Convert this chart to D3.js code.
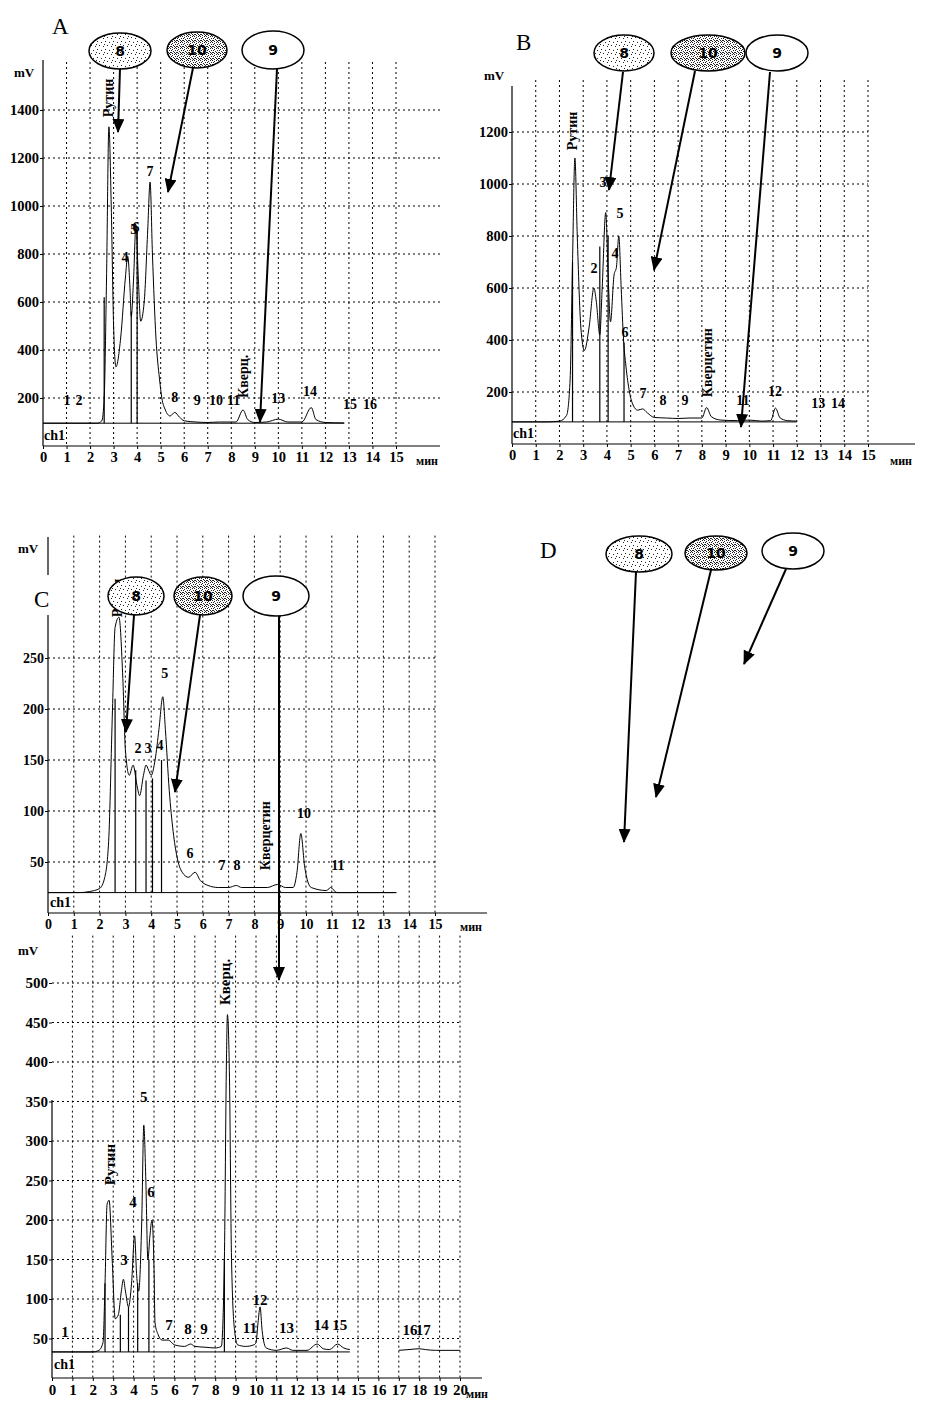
<!DOCTYPE html>
<html><head><meta charset="utf-8">
<script src="https://cdn.jsdelivr.net/npm/d3@7"></script>
<style>body{margin:0;background:#fff}</style>
</head><body>
<svg id="c" width="935" height="1413"></svg>
<script>
// ---------------- DATA ----------------
// Panel A
const xTicksA = [0,1,2,3,4,5,6,7,8,9,10,11,12,13,14,15];
const yTicksA = [200,400,600,800,1000,1200,1400];
const baseA = 95;
const traceA = [[0,95],[2.3,95],[2.5,105],[2.6,200],[2.7,700],[2.8,1330],[2.9,1000],[3.0,500],[3.1,330],[3.3,450],[3.5,700],[3.6,790],[3.7,650],[3.75,540],[3.85,700],[3.95,920],[4.05,700],[4.15,520],[4.3,600],[4.45,900],[4.55,1100],[4.65,800],[4.8,450],[4.95,280],[5.05,200],[5.2,150],[5.4,125],[5.6,140],[5.8,120],[6.0,105],[6.5,100],[7.0,98],[7.5,100],[8.2,100],[8.5,150],[8.7,110],[9.0,98],[9.5,100],[10.0,112],[10.4,100],[11.0,100],[11.4,160],[11.6,110],[12.0,98],[12.8,96]];
const dropA = [[2.6,620],[3.75,560],[4.0,900]];
const labelsA = [['1',1.02,170],['2',1.53,170],['4',3.48,767],['5',3.86,883],['6',3.95,890],['7',4.55,1125],['8',5.6,183],['9',6.55,170],['10',7.35,170],['11',8.1,170],['13',10.0,180],['14',11.35,208],['15',13.05,155],['16',13.9,155]];
const rotA = [['Рутин',2.76,1370],['Кверц.',8.5,200]];

// Panel B
const xTicksB = [0,1,2,3,4,5,6,7,8,9,10,11,12,13,14,15];
const yTicksB = [200,400,600,800,1000,1200];
const baseB = 85;
const traceB = [[0,85],[1.5,85],[2.0,88],[2.3,110],[2.45,250],[2.55,700],[2.65,1100],[2.75,800],[2.9,450],[3.05,360],[3.25,450],[3.45,600],[3.55,550],[3.7,420],[3.8,600],[3.95,890],[4.05,650],[4.15,470],[4.3,650],[4.4,680],[4.5,800],[4.6,600],[4.7,400],[4.8,300],[4.95,200],[5.1,150],[5.3,130],[5.5,135],[5.7,120],[6.0,102],[6.5,100],[7.0,98],[7.5,100],[8.0,100],[8.2,140],[8.4,105],[8.8,92],[9.5,90],[10.0,92],[10.5,88],[10.9,90],[11.1,138],[11.3,100],[11.6,90],[12.0,88]];
const dropB = [[2.55,700],[3.7,760],[4.05,800],[4.72,390]];
const labelsB = [['2',3.46,658],['3',3.83,988],['4',4.34,715],['5',4.55,870],['6',4.76,412],['7',5.52,177],['8',6.36,150],['9',7.29,150],['11',9.73,150],['12',11.08,185],['13',12.9,138],['14',13.74,138]];
const rotB = [['Рутин',2.53,1130],['Кверцетин',8.2,180]];

// Panel C
const xTicksC = [0,1,2,3,4,5,6,7,8,9,10,11,12,13,14,15];
const yTicksC = [50,100,150,200,250];
const baseC = 20;
const traceC = [[0,20],[1.2,20],[1.6,21],[2.0,24],[2.2,35],[2.35,70],[2.5,200],[2.6,280],[2.75,290],[2.9,230],[3.0,160],[3.15,135],[3.3,145],[3.45,125],[3.55,115],[3.7,135],[3.8,145],[3.9,140],[4.0,135],[4.15,150],[4.3,180],[4.45,212],[4.55,180],[4.7,120],[4.85,80],[5.0,55],[5.2,40],[5.45,35],[5.7,40],[5.9,32],[6.2,27],[6.6,25],[7.0,25],[7.3,27],[7.5,25],[8.0,25],[8.5,25],[8.9,28],[9.2,25],[9.5,25],[9.65,40],[9.8,78],[9.95,45],[10.2,25],[10.8,22],[10.95,25],[11.2,20],[12,20],[13.5,20]];
const dropC = [[2.6,210],[3.4,140],[3.8,130],[4.05,132],[4.4,150]];
const labelsC = [['2',3.49,157],['3',3.88,157],['4',4.34,160],['5',4.53,230],['6',5.5,54],['7',6.74,42],['8',7.33,42],['10',9.92,93],['11',11.24,42]];
const rotC = [['Рутин',2.67,290],['Кверцетин',8.41,42]];

// Panel D (bottom chromatogram)
const xTicksD = [0,1,2,3,4,5,6,7,8,9,10,11,12,13,14,15,16,17,18,19,20];
const yTicksD = [50,100,150,200,250,300,350,400,450,500];
const baseD = 33;
const traceD1 = [[0,33],[2.0,33],[2.3,35],[2.5,45],[2.6,120],[2.7,220],[2.8,225],[2.95,150],[3.1,75],[3.25,80],[3.4,110],[3.5,125],[3.6,110],[3.75,90],[3.9,120],[4.05,180],[4.15,130],[4.25,110],[4.4,200],[4.5,320],[4.6,250],[4.7,150],[4.8,180],[4.9,200],[5.0,140],[5.05,70],[5.2,55],[5.4,48],[5.7,48],[6.0,42],[6.5,40],[6.8,43],[7.0,40],[7.5,39],[8.0,38],[8.3,40],[8.45,150],[8.55,400],[8.6,460],[8.7,380],[8.8,150],[8.95,60],[9.1,42],[9.5,40],[9.9,42],[10.0,45],[10.1,70],[10.2,90],[10.3,60],[10.5,38],[11.0,35],[11.5,38],[11.8,35],[12.5,35],[13.0,43],[13.3,37],[13.6,36],[14.0,43],[14.3,38],[14.6,36]];
const traceD2 = [[17.0,35],[17.5,36],[18.0,37],[18.3,36],[18.8,35],[20,35]];
const dropD = [[2.6,120],[3.35,80],[3.75,90],[4.2,120],[4.75,150],[8.45,150]];
const labelsD = [['1',0.64,52],['3',3.53,143],['4',3.97,216],['5',4.5,349],['6',4.85,229],['7',5.73,61],['8',6.67,56],['9',7.45,56],['11',9.7,57],['12',10.2,92],['13',11.5,57],['14',13.2,61],['15',14.1,61],['16',17.55,54],['17',18.2,54]];
const rotD = [['Рутин',2.84,244],['Кверц.',8.48,472]];

// Ellipse tags
const tagNames = ['8','10','9'];

// ---------------- DRAW ----------------
const svg = d3.select('#c');
const defs = svg.append('defs');
function stipple(id, size, dots){
  const p = defs.append('pattern').attr('id',id).attr('width',size).attr('height',size).attr('patternUnits','userSpaceOnUse');
  p.append('rect').attr('width',size).attr('height',size).attr('fill','#fff');
  dots.forEach(d=>p.append('rect').attr('x',d[0]).attr('y',d[1]).attr('width',1).attr('height',1).attr('fill','#222'));
}
stipple('light',8,[[1,1],[5,2],[3,5],[7,6],[0,4]]);
stipple('dark',6,[[0,0],[2,0],[4,1],[1,2],[3,2],[5,3],[0,4],[2,4],[4,5],[1,5],[3,4]]);
defs.append('marker').attr('id','ah').attr('viewBox','0 0 14 12').attr('refX',13).attr('refY',6)
  .attr('markerWidth',14).attr('markerHeight',12).attr('markerUnits','userSpaceOnUse').attr('orient','auto')
  .append('path').attr('d','M0,0 L14,6 L0,12 z').attr('fill','#000');

const serif = '"Liberation Serif","DejaVu Serif",serif';

function panel(cfg){
  const g = svg.append('g');
  const x = d3.scaleLinear().domain(cfg.xd).range(cfg.xr);
  const y = d3.scaleLinear().domain(cfg.yd).range(cfg.yr);
  // grid
  g.selectAll('.vg').data(cfg.xt.filter(v=>v>0)).enter().append('line')
    .attr('x1',d=>x(d)).attr('x2',d=>x(d)).attr('y1',cfg.yr[1]).attr('y2',cfg.yr[0])
    .attr('stroke','#000').attr('stroke-width',1).attr('stroke-dasharray','2,3');
  g.selectAll('.hg').data(cfg.yt).enter().append('line')
    .attr('x1',cfg.xr[0]).attr('x2',cfg.gridEnd).attr('y1',d=>y(d)).attr('y2',d=>y(d))
    .attr('stroke','#000').attr('stroke-width',1).attr('stroke-dasharray','2,3');
  // y axis
  const ya = g.append('g').attr('transform',`translate(${cfg.xr[0]},0)`)
    .call(d3.axisLeft(y).tickValues(cfg.yt).tickSize(3).tickPadding(1).tickFormat(d3.format('d')));
  ya.select('.domain').attr('d',`M0,${cfg.yTop}V${cfg.yr[0]}`).attr('stroke-width',1.2);
  ya.selectAll('text').attr('font-family',serif).attr('font-weight','bold').attr('font-size',cfg.fs);
  // x axis
  const xa = g.append('g').attr('transform',`translate(0,${cfg.yr[0]})`)
    .call(d3.axisBottom(x).tickValues(cfg.xt).tickSize(3).tickPadding(3).tickFormat(d3.format('d')));
  xa.select('.domain').attr('d',`M${cfg.xr[0]},0H${cfg.axisEnd}`).attr('stroke-width',1.2);
  xa.selectAll('text').attr('font-family',serif).attr('font-weight','bold').attr('font-size',cfg.fs);
  // axis labels
  g.append('text').attr('x',cfg.mv[0]).attr('y',cfg.mv[1]).text('mV')
    .attr('font-family',serif).attr('font-weight','bold').attr('font-size',13);
  g.append('text').attr('x',cfg.min[0]).attr('y',cfg.min[1]).text('мин')
    .attr('font-family',serif).attr('font-weight','bold').attr('font-size',12);
  g.append('text').attr('x',cfg.ch[0]).attr('y',cfg.ch[1]).text('ch1')
    .attr('font-family',serif).attr('font-weight','bold').attr('font-size',14);
  // baseline
  const line = d3.line().x(d=>x(d[0])).y(d=>y(d[1])).curve(d3.curveMonotoneX);
  g.append('line').attr('x1',cfg.xr[0]).attr('x2',x(cfg.baseEnd)).attr('y1',y(cfg.base)).attr('y2',y(cfg.base))
    .attr('stroke','#000').attr('stroke-width',1);
  cfg.traces.forEach(t=>g.append('path').attr('d',line(t)).attr('fill','none').attr('stroke','#000').attr('stroke-width',1));
  // drop lines
  g.selectAll('.dl').data(cfg.drops).enter().append('line')
    .attr('x1',d=>x(d[0])).attr('x2',d=>x(d[0])).attr('y1',y(cfg.base)).attr('y2',d=>y(d[1]))
    .attr('stroke','#000').attr('stroke-width',1.2);
  // labels
  g.selectAll('.lb').data(cfg.labels).enter().append('text')
    .attr('x',d=>x(d[1])).attr('y',d=>y(d[2])).attr('text-anchor','middle').text(d=>d[0])
    .attr('font-family',serif).attr('font-weight','bold').attr('font-size',cfg.lfs);
  g.selectAll('.rl').data(cfg.rot).enter().append('text')
    .attr('transform',d=>`translate(${x(d[1])+5},${y(d[2])}) rotate(-90)`).text(d=>d[0])
    .attr('font-family',serif).attr('font-weight','bold').attr('font-size',cfg.lfs);
}

panel({xd:[0,15],xr:[43,396],yd:[0,1600],yr:[446,62],yTop:60,xt:xTicksA,yt:yTicksA,gridEnd:440,axisEnd:440,
  fs:14.5,lfs:14,mv:[14,77],min:[416,465],ch:[44,440],base:baseA,baseEnd:12.8,traces:[traceA],drops:dropA,labels:labelsA,rot:rotA});
panel({xd:[0,15],xr:[512,868],yd:[0,1400],yr:[444,80],yTop:86,xt:xTicksB,yt:yTicksB,gridEnd:868,axisEnd:915,
  fs:14.5,lfs:14,mv:[484,80],min:[890,465],ch:[513,438],base:baseB,baseEnd:12.0,traces:[traceB],drops:dropB,labels:labelsB,rot:rotB});
panel({xd:[0,15],xr:[48,435],yd:[0,370],yr:[913,535.6],yTop:537,xt:xTicksC,yt:yTicksC,gridEnd:435,axisEnd:487,
  fs:14,lfs:14,mv:[18,553],min:[460,931],ch:[50,907],base:baseC,baseEnd:13.5,traces:[traceC],drops:dropC,labels:labelsC,rot:rotC});
panel({xd:[0,20],xr:[52,460],yd:[0,560],yr:[1378,935.6],yTop:1100,xt:xTicksD,yt:yTicksD,gridEnd:460,axisEnd:482,
  fs:15,lfs:15,mv:[18,955],min:[466,1398],ch:[54,1369],base:baseD,baseEnd:14.6,traces:[traceD1,traceD2],drops:dropD,labels:labelsD,rot:rotD});

// white gap behind "C" on the C y-axis
svg.append('rect').attr('x',28).attr('y',575).attr('width',30).attr('height',40).attr('fill','#fff');

// panel letters
[['A',52,34],['B',516,50],['C',34,607],['D',540,558]].forEach(p=>
  svg.append('text').attr('x',p[1]).attr('y',p[2]).text(p[0]).attr('font-family',serif).attr('font-size',23));

// ellipse tags and arrows
const tagSets = [
  {c:[[120,51,31,18],[197,50,30,18],[273,50,31,19]], a:[[120,69,118,132],[193,68,168,192],[277,69,260,422]]},
  {c:[[624,53,30,18],[708,53,37,18],[777,53,31,18]], a:[[623,72,609,190],[695,71,654,270],[770,72,741,427]]},
  {c:[[136,596,28,19],[203,596,29,19],[276,596,33,20]], a:[[134,615,126,732],[200,615,175,792],[279,616,279,980]]},
  {c:[[639,554,33,18],[716,553,31,17],[793,551,31,18]], a:[[636,572,624,842],[711,570,656,797],[786,569,744,664]]}
];
const fills = ['url(#light)','url(#dark)','#fff'];
tagSets.forEach(s=>{
  s.a.forEach(a=>svg.append('line').attr('x1',a[0]).attr('y1',a[1]).attr('x2',a[2]).attr('y2',a[3])
    .attr('stroke','#000').attr('stroke-width',2).attr('marker-end','url(#ah)'));
  s.c.forEach((c,i)=>{
    svg.append('ellipse').attr('cx',c[0]).attr('cy',c[1]).attr('rx',c[2]).attr('ry',c[3])
      .attr('fill',fills[i]).attr('stroke','#000').attr('stroke-width',1.5);
    svg.append('text').attr('x',c[0]).attr('y',c[1]+5).attr('text-anchor','middle').text(tagNames[i])
      .attr('font-family','"DejaVu Sans",sans-serif').attr('font-weight','bold').attr('font-size',14);
  });
});
</script>
</body></html>
